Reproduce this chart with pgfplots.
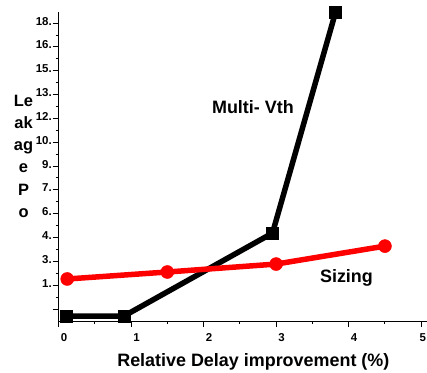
\documentclass[border=0pt]{standalone}
\usepackage{fontspec}
\setmainfont{Liberation Sans}
\usepackage{pgfplots}
\pgfplotsset{compat=1.18}
\begin{document}
\begin{tikzpicture}
\begin{axis}[
  scale only axis,
  width=368.5bp, height=309bp,
  xmin=0, xmax=5.08, ymin=-0.755, ymax=18.7,
  axis lines=left,
  axis line style={-, line width=1bp},
  clip=false,
  tick align=outside,
  major tick length=6bp, minor tick length=3bp,
  every tick/.style={line width=1bp, black},
  xtick={0,1,2,3,4,5},
  xticklabels={0,1,2,3,4,\hspace*{-8bp}5},
  minor xtick={0.5,1.5,2.5,3.5,4.5},
  ytick={0,1.5,3,4.5,6,7.5,9,10.5,12,13.5,15,16.5,18},
  yticklabels={,1.,3.,4.,6.,7.,9.,10.,12.,13.,15.,16.,18.},
  minor ytick={0.75,2.25,3.75,5.25,6.75,8.25,9.75,11.25,12.75,14.25,15.75,17.25},
  /pgf/number format/assume math mode=true,
  xticklabel style={font=\bfseries\fontsize{11.5}{13}\selectfont, xshift=5.5bp, yshift=-3bp},
  yticklabel style={font=\bfseries\fontsize{11.5}{13}\selectfont, inner sep=0.5bp, yshift=2bp},
]
\addplot[black, line width=5.5bp, mark=square*, mark size=6bp, mark options={line width=0.5bp}]
  coordinates {(0.1,-0.45) (0.9,-0.45) (2.95,4.78) (3.82,18.7)};
\addplot[red, line width=5.5bp, mark=*, mark size=6.5bp, mark options={line width=0.5bp}]
  coordinates {(0.12,1.89) (1.5,2.33) (3.0,2.83) (4.5,3.96)};
\node[anchor=base, font=\bfseries\fontsize{18}{20}\selectfont] at (axis cs:2.68,12.33) {Multi- Vth};
\node[anchor=base, font=\bfseries\fontsize{18}{20}\selectfont] at (axis cs:3.97,1.64) {Sizing};
\node[anchor=base, font=\bfseries\fontsize{18}{20}\selectfont] at (axis cs:2.686,-3.65) {Relative Delay improvement (\%)};
\node[anchor=north, align=center, inner sep=0pt, font=\bfseries\fontsize{16.5}{22.2}\selectfont] at (axis cs:-0.482,13.47) {Le\\ak\\ag\\e\\P\\o};
\end{axis}
\pgfresetboundingbox
\useasboundingbox ([xshift=-58.5bp,yshift=-52bp]current axis.south west) rectangle ([yshift=12bp]current axis.north east);
\end{tikzpicture}
\end{document}
